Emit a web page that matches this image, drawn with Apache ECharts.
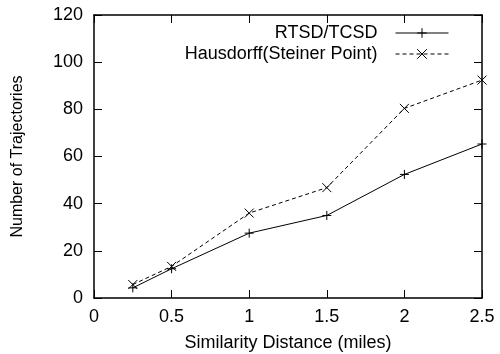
<!DOCTYPE html>
<html><head><meta charset="utf-8">
<script src="https://cdn.jsdelivr.net/npm/echarts@6/dist/echarts.min.js"></script>
<style>html,body{margin:0;padding:0;background:#fff}#c{width:500px;height:354px}</style>
</head><body><div id="c"></div>
<script>
const distances = [0.25, 0.5, 1, 1.5, 2, 2.5];
const rtsd = [4.3, 12.4, 27.5, 35.0, 52.4, 65.3];
const hausdorff = [5.7, 13.4, 36.0, 46.8, 80.4, 92.4];
const seriesNames = ['RTSD/TCSD', 'Hausdorff(Steiner Point)'];
const xTitle = 'Similarity Distance (miles)';
const yTitle = 'Number of Trajectories';

const plus = 'path://M0,5L10,5M5,0L5,10';
const cross = 'path://M0,0L10,10M0,10L10,0';
const font = 'Liberation Sans, Arial, Helvetica, sans-serif';
const fs = 18;
const chart = echarts.init(document.getElementById('c'), null, {renderer: 'canvas'});
const axisCommon = {
  axisLine: {show: true, onZero: false, lineStyle: {color: '#000', width: 1.5}},
  axisTick: {show: true, inside: true, length: 8, lineStyle: {color: '#000', width: 1}},
  splitLine: {show: false}
};
chart.setOption({
  animation: false,
  grid: {left: 94, right: 18, top: 15, bottom: 56, containLabel: false, outerBoundsMode: 'none'},
  legend: {
    orient: 'vertical', align: 'right', right: 46, top: 19, itemGap: 3,
    itemWidth: 53, itemHeight: 12,
    itemStyle: {borderWidth: 1},
    lineStyle: {width: 1},
    textStyle: {fontFamily: font, fontSize: fs, color: '#000', padding: [0, 13, 0, 0]},
    data: seriesNames
  },
  xAxis: [
    Object.assign({type: 'value', min: 0, max: 2.5, interval: 0.5, position: 'bottom',
      name: xTitle, nameLocation: 'middle', nameGap: 36,
      nameTextStyle: {fontFamily: font, fontSize: fs, color: '#000'},
      axisLabel: {fontFamily: font, fontSize: fs, color: '#000', margin: 10}}, axisCommon),
    Object.assign({type: 'value', min: 0, max: 2.5, interval: 0.5, position: 'top',
      axisLabel: {show: false}}, axisCommon)
  ],
  yAxis: [
    Object.assign({type: 'value', min: 0, max: 120, interval: 20, position: 'left',
      name: yTitle, nameLocation: 'middle', nameGap: 68,
      nameTextStyle: {fontFamily: font, fontSize: 16, color: '#000'},
      axisLabel: {fontFamily: font, fontSize: fs, color: '#000', margin: 11}}, axisCommon),
    Object.assign({type: 'value', min: 0, max: 120, interval: 20, position: 'right',
      axisLabel: {show: false}}, axisCommon)
  ],
  series: [
    {name: seriesNames[0], type: 'line', data: distances.map((d, i) => [d, rtsd[i]]),
     symbol: plus, symbolSize: 9,
     itemStyle: {color: 'rgba(0,0,0,0)', borderColor: '#000', borderWidth: 1},
     lineStyle: {color: '#000', width: 1, type: 'solid'}},
    {name: seriesNames[1], type: 'line', data: distances.map((d, i) => [d, hausdorff[i]]),
     symbol: cross, symbolSize: 9,
     itemStyle: {color: 'rgba(0,0,0,0)', borderColor: '#000', borderWidth: 1},
     lineStyle: {color: '#000', width: 1, type: [4, 3]}}
  ]
});
</script></body></html>
